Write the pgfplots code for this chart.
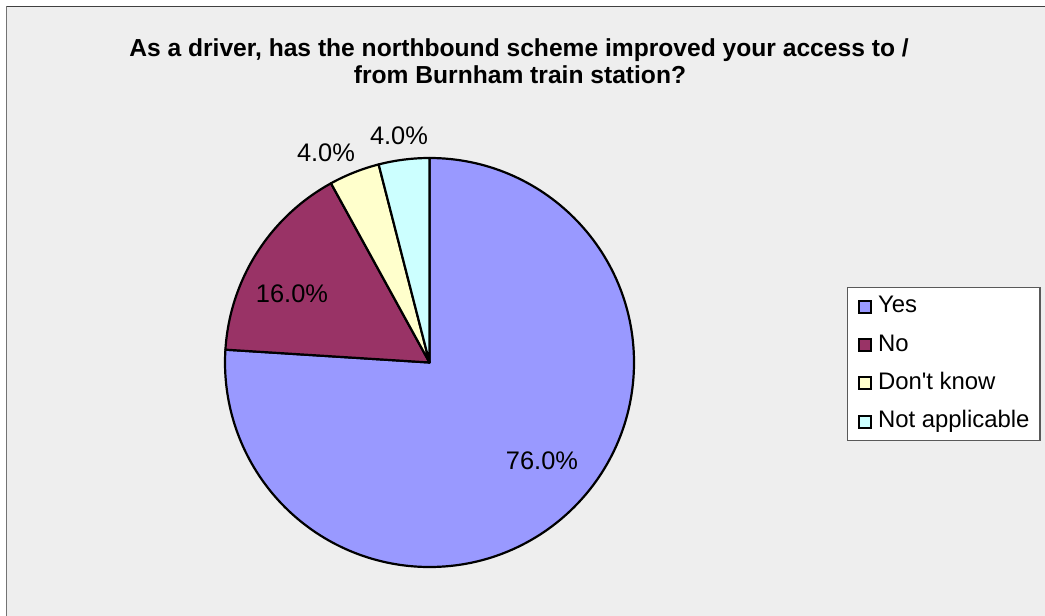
\documentclass[border=0pt]{standalone}
\usepackage{pgfplots}
\usepackage{pgfplotstable}
\pgfplotsset{compat=1.18}
\usepackage{fontspec}
\setmainfont{Liberation Sans}

\definecolor{yes}{HTML}{9999FF}
\definecolor{no}{HTML}{993366}
\definecolor{dk}{HTML}{FFFFCC}
\definecolor{na}{HTML}{CCFFFF}
\definecolor{bg}{HTML}{EEEEEE}

% share of answers, percent
\pgfplotstableread{
label value
Yes 76
No 16
DontKnow 4
NotApplicable 4
}\piedata

\begin{document}
\begin{tikzpicture}
\pgfplotstablegetelem{0}{value}\of\piedata \let\vYes\pgfplotsretval
\pgfplotstablegetelem{1}{value}\of\piedata \let\vNo\pgfplotsretval
\pgfplotstablegetelem{2}{value}\of\piedata \let\vDk\pgfplotsretval
\pgfplotstablegetelem{3}{value}\of\piedata \let\vNa\pgfplotsretval
% slice boundaries, clockwise from the top
\pgfmathsetmacro\aA{90-3.6*\vYes}
\pgfmathsetmacro\aB{\aA-3.6*\vNo}
\pgfmathsetmacro\aC{\aB-3.6*\vDk}
\pgfmathsetmacro\aD{\aC-3.6*\vNa}
\def\R{204.5bp}
\begin{axis}[
  scale only axis, width=1045bp, height=616bp,
  xmin=0, xmax=1045, ymin=0, ymax=616, y dir=reverse,
  hide axis,
  /pgf/number format/assume math mode=true,
  legend style={at={(axis cs:847,287)}, anchor=north west,
    draw=black!65, fill=white, line width=1.4bp,
    inner xsep=10.5bp, inner ysep=8bp, row sep=16.3bp, column sep=6bp,
    font=\fontsize{24}{28}\selectfont,
    nodes={inner sep=0pt, text height=17bp, text depth=5bp}},
  legend cell align=left,
  legend image code/.code={\draw[#1, line width=1.8bp] (0.5bp,-6bp) rectangle (12.5bp,6bp);},
]
% chart area
\fill[white] (axis cs:0,0) rectangle (axis cs:1045,616);
\fill[bg] (axis cs:6,6) rectangle (axis cs:1045,616);
\draw[black!55, line width=1.8bp] (axis cs:6.5,616) -- (axis cs:6.5,6.5);
\draw[black!75, line width=1.8bp] (axis cs:6.5,6.5) -- (axis cs:1045,6.5);

\node[font=\bfseries\fontsize{24.7}{28}\selectfont, anchor=base] at (axis cs:519,56.7)
  {As a driver, has the northbound scheme improved your access to /};
\node[font=\bfseries\fontsize{24.7}{28}\selectfont, anchor=base] at (axis cs:520,83.3)
  {from Burnham train station?};

% pie
\tikzset{slice/.style={draw=black, line width=2.2bp, line join=round}}
\filldraw[slice, fill=yes]
  (axis cs:429.5,362.5) -- ++(90:\R) arc[start angle=90, end angle=\aA, radius=\R] -- cycle;
\filldraw[slice, fill=no]
  (axis cs:429.5,362.5) -- ++(\aA:\R) arc[start angle=\aA, end angle=\aB, radius=\R] -- cycle;
\filldraw[slice, fill=dk]
  (axis cs:429.5,362.5) -- ++(\aB:\R) arc[start angle=\aB, end angle=\aC, radius=\R] -- cycle;
\filldraw[slice, fill=na]
  (axis cs:429.5,362.5) -- ++(\aC:\R) arc[start angle=\aC, end angle=\aD, radius=\R] -- cycle;

% data labels
\tikzset{lbl/.style={font=\fontsize{25.5}{30}\selectfont, anchor=base, inner sep=0pt}}
\node[lbl] at (axis cs:542,469) {\pgfmathprintnumber[fixed,fixed zerofill,precision=1]{\vYes}\%};
\node[lbl] at (axis cs:292,302) {\pgfmathprintnumber[fixed,fixed zerofill,precision=1]{\vNo}\%};
\node[lbl] at (axis cs:326,161) {\pgfmathprintnumber[fixed,fixed zerofill,precision=1]{\vDk}\%};
\node[lbl] at (axis cs:399,144) {\pgfmathprintnumber[fixed,fixed zerofill,precision=1]{\vNa}\%};

\addlegendimage{fill=yes, draw=black}
\addlegendentry{Yes}
\addlegendimage{fill=no, draw=black}
\addlegendentry{No}
\addlegendimage{fill=dk, draw=black}
\addlegendentry{Don\textquotesingle t know}
\addlegendimage{fill=na, draw=black}
\addlegendentry{Not applicable}
\end{axis}
\end{tikzpicture}
\end{document}
